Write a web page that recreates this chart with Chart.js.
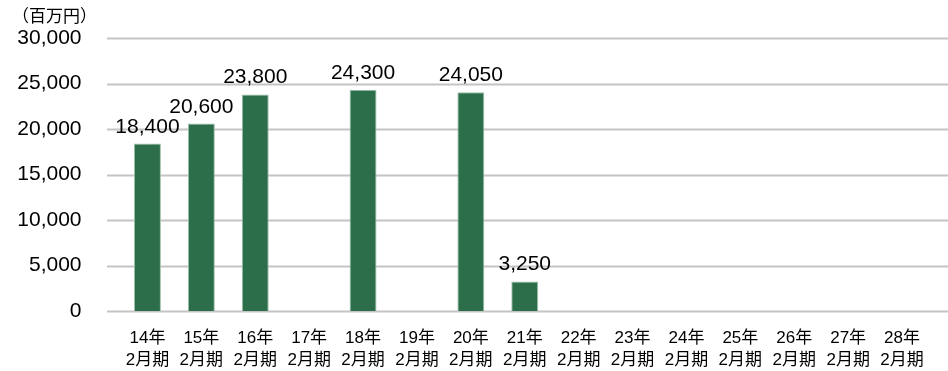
<!DOCTYPE html>
<html lang="ja">
<head>
    <meta charset="UTF-8">
    <title>売上高推移</title>
    <script src="https://cdn.jsdelivr.net/npm/chart.js"></script>
    <style>
        html, body {
            margin: 0;
            padding: 0;
            background: #fff;
        }
        #wrap {
            width: 948px;
            height: 371px;
        }
    </style>
</head>
<body>
    <div id="wrap"><canvas id="salesChart"></canvas></div>
    <script>
        // Fiscal periods (two-line labels) and sales in millions of yen
        const periods = [
            ['14年', '2月期'], ['15年', '2月期'], ['16年', '2月期'], ['17年', '2月期'],
            ['18年', '2月期'], ['19年', '2月期'], ['20年', '2月期'], ['21年', '2月期'],
            ['22年', '2月期'], ['23年', '2月期'], ['24年', '2月期'], ['25年', '2月期'],
            ['26年', '2月期'], ['27年', '2月期'], ['28年', '2月期']
        ];
        const sales = [18400, 20600, 23800, null, 24300, null, 24050, 3250,
                       null, null, null, null, null, null, null];
        const yTicks = [0, 5000, 10000, 15000, 20000, 25000, 30000];
        const unitLabel = '（百万円）';

        const latin = '"Liberation Sans", Arial, "Noto Sans CJK JP", sans-serif';

        // horizontal gridlines run past the plot area on both sides
        const gridPlugin = {
            id: 'wideGrid',
            beforeDatasetsDraw(chart) {
                const { ctx, scales: { y } } = chart;
                ctx.save();
                ctx.strokeStyle = '#C4C4C4';
                ctx.lineWidth = 2;
                yTicks.forEach(v => {
                    const py = Math.round(y.getPixelForValue(v)) + 0.5;
                    ctx.beginPath();
                    ctx.moveTo(107, py);
                    ctx.lineTo(chart.width, py);
                    ctx.stroke();
                });
                ctx.restore();
            }
        };

        // value labels above bars, plus the unit caption
        const labelPlugin = {
            id: 'barLabels',
            afterDatasetsDraw(chart) {
                const { ctx } = chart;
                const meta = chart.getDatasetMeta(0);
                ctx.save();
                ctx.fillStyle = '#000';
                ctx.font = '21px ' + latin;
                ctx.textAlign = 'center';
                ctx.textBaseline = 'alphabetic';
                meta.data.forEach((bar, i) => {
                    const v = sales[i];
                    if (v == null) return;
                    ctx.fillText(v.toLocaleString('en-US'), bar.x, bar.y - 11);
                });
                ctx.font = '17px "Noto Sans CJK JP", sans-serif';
                ctx.textAlign = 'left';
                ctx.textBaseline = 'middle';
                ctx.fillText(unitLabel, 12, 16);
                ctx.restore();
            }
        };

        new Chart(document.getElementById('salesChart'), {
            type: 'bar',
            data: {
                labels: periods,
                datasets: [{
                    data: sales,
                    backgroundColor: '#2D6E4A',
                    borderColor: '#9DBFA9',
                    borderWidth: 1,
                    categoryPercentage: 0.5,
                    barPercentage: 1.0
                }]
            },
            options: {
                responsive: true,
                maintainAspectRatio: false,
                animation: false,
                layout: {
                    padding: { top: 38, right: 19, bottom: 0, left: 0 }
                },
                plugins: {
                    legend: { display: false },
                    tooltip: { enabled: false }
                },
                scales: {
                    x: {
                        grid: { display: false },
                        border: { display: false },
                        ticks: {
                            color: '#000',
                            padding: 8,
                            maxRotation: 0,
                            autoSkip: false,
                            font: { family: latin, size: 17, lineHeight: 1.3 }
                        },
                        afterFit(scale) { scale.height = 60; }
                    },
                    y: {
                        min: 0,
                        max: 30000,
                        grid: { display: false },
                        border: { display: false },
                        afterBuildTicks(scale) {
                            scale.ticks = yTicks.map(v => ({ value: v }));
                        },
                        ticks: {
                            color: '#000',
                            padding: 31,
                            font: { family: latin, size: 21 },
                            callback: v => v.toLocaleString('en-US')
                        },
                        afterFit(scale) {
                            scale.width = 120.5;
                            scale.paddingTop = 0;
                            scale.paddingBottom = 0;
                        }
                    }
                }
            },
            plugins: [gridPlugin, labelPlugin]
        });
    </script>
</body>
</html>
